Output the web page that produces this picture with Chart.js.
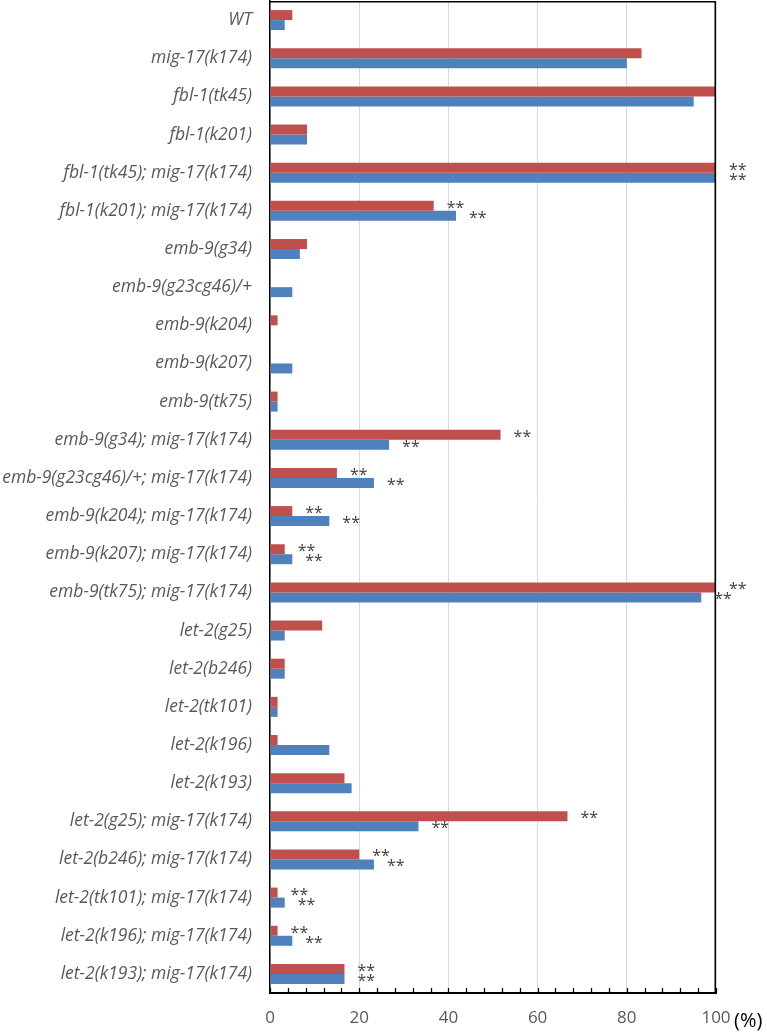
<!DOCTYPE html>
<html>
<head>
<meta charset="utf-8">
<script src="https://cdn.jsdelivr.net/npm/chart.js@4/dist/chart.umd.min.js"></script>
<style>
    body { margin: 0; background: #fff; }
    #chart { display: block; }
</style>
</head>
<body>
<canvas id="chart" width="767" height="1032"></canvas>
<script>
// genotypes, top to bottom
let categories = [
    'WT', 'mig-17(k174)', 'fbl-1(tk45)', 'fbl-1(k201)',
    'fbl-1(tk45); mig-17(k174)', 'fbl-1(k201); mig-17(k174)',
    'emb-9(g34)', 'emb-9(g23cg46)/+', 'emb-9(k204)', 'emb-9(k207)', 'emb-9(tk75)',
    'emb-9(g34); mig-17(k174)', 'emb-9(g23cg46)/+; mig-17(k174)',
    'emb-9(k204); mig-17(k174)', 'emb-9(k207); mig-17(k174)', 'emb-9(tk75); mig-17(k174)',
    'let-2(g25)', 'let-2(b246)', 'let-2(tk101)', 'let-2(k196)', 'let-2(k193)',
    'let-2(g25); mig-17(k174)', 'let-2(b246); mig-17(k174)', 'let-2(tk101); mig-17(k174)',
    'let-2(k196); mig-17(k174)', 'let-2(k193); mig-17(k174)'
];

let redValues = [
    5.0, 83.3, 100, 8.3, 100, 36.7,
    8.3, 0, 1.7, 0, 1.7,
    51.7, 15.0, 5.0, 3.3, 100,
    11.7, 3.3, 1.7, 1.7, 16.7,
    66.7, 20.0, 1.7, 1.7, 16.7
];

let blueValues = [
    3.3, 80.0, 95.0, 8.3, 100, 41.7,
    6.7, 5.0, 0, 5.0, 1.7,
    26.7, 23.3, 13.3, 5.0, 96.7,
    3.3, 3.3, 1.7, 13.3, 18.3,
    33.3, 23.3, 3.3, 5.0, 16.7
];

let redStars = [
    '', '', '', '', '**', '**',
    '', '', '', '', '',
    '**', '**', '**', '**', '**',
    '', '', '', '', '',
    '**', '**', '**', '**', '**'
];
let blueStars = redStars.slice();

let xTicks = [0, 20, 40, 60, 80, 100];
let minorStep = 4;
let unitLabel = '(%)';

const FONT = "'Open Sans', 'Noto Sans', sans-serif";

const extras = {
    id: 'extras',
    afterDraw(chart) {
        let ctx = chart.ctx;
        let area = chart.chartArea;
        let xs = chart.scales.x;

        ctx.save();
        // frame top / right
        ctx.strokeStyle = '#000';
        ctx.lineWidth = 1.5;
        ctx.beginPath();
        ctx.moveTo(area.left, area.top + 0.75);
        ctx.lineTo(area.right - 0.75, area.top + 0.75);
        ctx.lineTo(area.right - 0.75, area.bottom);
        ctx.stroke();

        // small tick marks on the bottom axis
        ctx.lineWidth = 1.3;
        ctx.beginPath();
        for (let v = 0; v <= 100; v += minorStep) {
            let x = Math.round(xs.getPixelForValue(v)) + 0.5;
            ctx.moveTo(x, area.bottom);
            ctx.lineTo(x, area.bottom - 5);
        }
        ctx.stroke();

        // significance marks
        ctx.fillStyle = '#404040';
        ctx.font = '16px ' + FONT;
        ctx.textAlign = 'left';
        ctx.textBaseline = 'alphabetic';
        let starSets = [redStars, blueStars];
        chart.data.datasets.forEach(function(ds, di) {
            let meta = chart.getDatasetMeta(di);
            meta.data.forEach(function(bar, i) {
                let s = starSets[di][i];
                if (!s) return;
                ctx.fillText(s, bar.x + 13, bar.y + 7);
            });
        });

        // unit label
        ctx.fillStyle = '#000';
        ctx.font = '20px ' + FONT;
        ctx.textBaseline = 'middle';
        ctx.fillText(unitLabel, 734, 1021);
        ctx.restore();
    }
};

new Chart(document.getElementById('chart'), {
    type: 'bar',
    data: {
        labels: categories,
        datasets: [{
            label: 'red',
            data: redValues,
            backgroundColor: '#c0504d',
            borderWidth: 0
        }, {
            label: 'blue',
            data: blueValues,
            backgroundColor: '#4f81bd',
            borderWidth: 0
        }]
    },
    options: {
        indexAxis: 'y',
        responsive: false,
        animation: false,
        devicePixelRatio: 1,
        categoryPercentage: 0.524,
        barPercentage: 1,
        layout: { autoPadding: false, padding: { top: 1, right: 51, left: 0, bottom: 0 } },
        plugins: {
            legend: { display: false },
            tooltip: { enabled: false }
        },
        scales: {
            x: {
                min: 0,
                max: 100,
                afterBuildTicks: function(scale) {
                    scale.ticks = xTicks.map(v => ({ value: v }));
                },
                afterFit: function(scale) {
                    scale.height = 39;
                    scale.paddingLeft = 0;
                    scale.paddingRight = 0;
                },
                grid: {
                    color: '#d9d9d9',
                    lineWidth: 1,
                    drawTicks: false
                },
                border: { color: '#000', width: 2 },
                ticks: {
                    padding: 15,
                    color: '#595959',
                    font: { family: FONT, size: 17 }
                }
            },
            y: {
                afterFit: function(scale) {
                    scale.width = 270;
                    scale.paddingTop = 0;
                    scale.paddingBottom = 0;
                },
                grid: { display: false, drawTicks: false },
                border: { color: '#000', width: 1.5 },
                ticks: {
                    autoSkip: false,
                    padding: 18,
                    color: '#595959',
                    font: { family: FONT, size: 17.5, style: 'italic' }
                }
            }
        }
    },
    plugins: [extras]
});
</script>
</body>
</html>
